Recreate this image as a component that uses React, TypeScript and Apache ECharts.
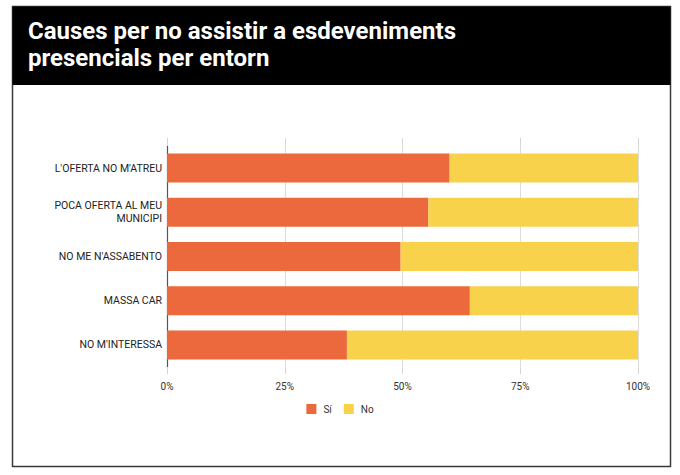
import React, { useEffect, useRef } from "react";
import * as echarts from "echarts";

const categories = [
  "L'OFERTA NO M'ATREU",
  "POCA OFERTA AL MEU\nMUNICIPI",
  "NO ME N'ASSABENTO",
  "MASSA CAR",
  "NO M'INTERESSA",
];
const siValues = [60, 55.5, 49.6, 64.3, 38.2];
const noValues = [40, 44.5, 50.4, 35.7, 61.8];
const xTicks = [0, 25, 50, 75, 100];
const titleText = "Causes per no assistir a esdeveniments\npresencials per entorn";

const ORANGE = "#EC693E";
const YELLOW = "#F7D24A";
const FONT = "Roboto, 'Noto Sans', sans-serif";

export default function App() {
  const ref = useRef<HTMLDivElement>(null);
  useEffect(() => {
    document.body.style.margin = "0";
    const chart = echarts.init(ref.current!, null, { renderer: "svg" });
    chart.setOption({
      animation: false,
      backgroundColor: "#fff",
      graphic: [
        {
          type: "rect",
          shape: { x: 12.5, y: 6.5, width: 658, height: 460 },
          style: { fill: "#fff", stroke: "#3a3a3a", lineWidth: 1.5 },
          z: -10,
        },
        {
          type: "rect",
          shape: { x: 12.5, y: 6.5, width: 658, height: 78.5 },
          style: { fill: "#000" },
          z: -9,
        },
      ],
      title: {
        text: titleText,
        left: 23,
        top: 12,
        textStyle: {
          color: "#fff",
          fontSize: 24,
          fontWeight: "bold",
          fontFamily: FONT,
          lineHeight: 27,
        },
      },
      legend: {
        data: ["Sí", "No"],
        left: "center",
        top: 399,
        icon: "rect",
        itemWidth: 10,
        itemHeight: 10,
        itemGap: 12,
        textStyle: { fontSize: 10, color: "#333", fontFamily: FONT, padding: [0, 0, 0, 2] },
      },
      grid: { left: 167, right: 42, top: 146, bottom: 108, containLabel: false },
      xAxis: [
        {
          type: "value",
          min: 0,
          max: 100,
          interval: 25,
          axisLine: { show: false },
          axisTick: { show: true, length: 7, lineStyle: { color: "#d6d6d6" } },
          splitLine: { show: true, lineStyle: { color: "#dcdcdc" } },
          axisLabel: {
            formatter: (v: number) => (xTicks.includes(v) ? v + "%" : ""),
            fontSize: 10,
            color: "#333",
            fontFamily: FONT,
            margin: 14,
          },
        },
        {
          type: "value",
          position: "top",
          min: 0,
          max: 100,
          interval: 25,
          axisLine: { show: false },
          axisTick: { show: true, length: 8, lineStyle: { color: "#d6d6d6" } },
          splitLine: { show: false },
          axisLabel: { show: false },
        },
      ],
      yAxis: {
        type: "category",
        data: categories,
        inverse: true,
        axisLine: { show: true, lineStyle: { color: "#555", width: 1.2 } },
        axisTick: { show: false },
        axisLabel: {
          fontSize: 10.5,
          color: "#222",
          fontFamily: FONT,
          margin: 5,
          lineHeight: 13,
        },
      },
      series: [
        {
          name: "Sí",
          type: "bar",
          stack: "total",
          data: siValues,
          barWidth: 29,
          itemStyle: { color: ORANGE },
        },
        {
          name: "No",
          type: "bar",
          stack: "total",
          data: noValues,
          barWidth: 29,
          itemStyle: { color: YELLOW },
        },
      ],
    });
    return () => chart.dispose();
  }, []);
  return <div ref={ref} style={{ width: 680, height: 475 }} />;
}
